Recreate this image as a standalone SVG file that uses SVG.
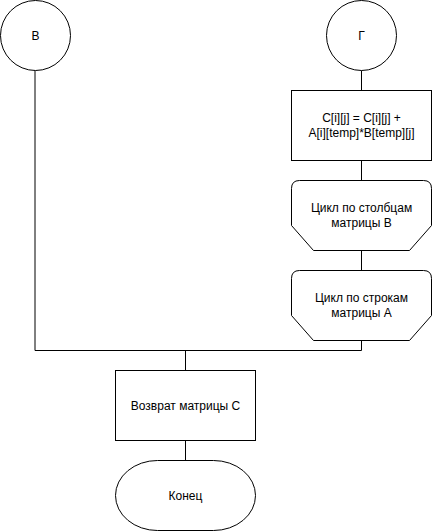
<svg xmlns="http://www.w3.org/2000/svg" width="432" height="531" viewBox="0 0 432 531">
<style>
.s{fill:#fff;stroke:#000;stroke-width:1}
.c{fill:none;stroke:#000;stroke-width:1}
text{font-family:"Liberation Sans",Arial,sans-serif;font-size:12px;fill:#000;text-anchor:middle}
</style>
<rect width="432" height="531" fill="#fff"/>
<g id="connectors">
<path class="c" d="M35,70.5V350.5H361.5V340"/>
<path class="c" d="M361.5,70.5V90.5M361.5,160.5V180.5M361.5,250.5V270.5"/>
<path class="c" d="M185.5,350.5V370.5M185.5,440.5V460.5"/>
</g>
<g id="nodeV">
<circle class="s" cx="35.5" cy="35.5" r="35"/>
<text x="35.5" y="40">В</text>
</g>
<g id="nodeG">
<circle class="s" cx="361.5" cy="35.5" r="35"/>
<text x="361.5" y="40">Г</text>
</g>
<g id="calc">
<rect class="s" x="291.5" y="90.5" width="140" height="70"/>
<text x="361.5" y="122">C[i][j] = C[i][j] +</text>
<text x="361.5" y="137">A[i][temp]*B[temp][j]</text>
</g>
<g id="loopB">
<path class="s" d="M291.5,188.5Q291.5,180.5 299.5,180.5H423.5Q431.5,180.5 431.5,188.5V225.5L409.5,250.5H313.5L291.5,225.5Z"/>
<text x="361.5" y="212">Цикл по столбцам</text>
<text x="361.5" y="227">матрицы B</text>
</g>
<g id="loopA">
<path class="s" d="M291.5,278.5Q291.5,270.5 299.5,270.5H423.5Q431.5,270.5 431.5,278.5V315.5L409.5,340.5H313.5L291.5,315.5Z"/>
<text x="361.5" y="302">Цикл по строкам</text>
<text x="361.5" y="317">матрицы А</text>
</g>
<g id="ret">
<rect class="s" x="115.5" y="370.5" width="140" height="70"/>
<text x="185.5" y="410">Возврат матрицы С</text>
</g>
<g id="end">
<path class="s" d="M157.5,460.5H213.5A42,35 0 0 1 213.5,530.5H157.5A42,35 0 0 1 157.5,460.5Z"/>
<text x="185.5" y="500">Конец</text>
</g>
</svg>
